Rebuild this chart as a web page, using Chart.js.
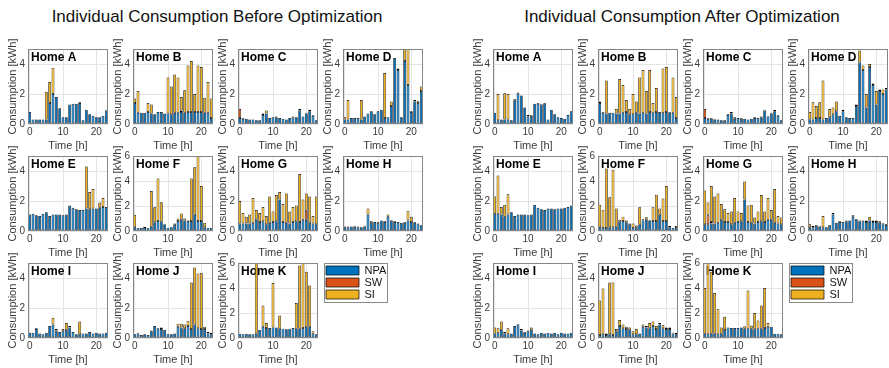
<!DOCTYPE html>
<html>
<head>
<meta charset="utf-8">
<script src="https://cdn.jsdelivr.net/npm/chart.js@4"></script>
<style>
  html, body { margin: 0; padding: 0; background: #fff; overflow: hidden; }
  #fig { position: relative; width: 889px; height: 368px; overflow: hidden; background: #fff;
         font-family: "Liberation Sans", Arial, sans-serif; }
  .ttl { position: absolute; width: 600px; text-align: center; font-size: 17px; line-height: 20px;
         color: #111; white-space: nowrap; top: 7px; }
  canvas.cell { position: absolute; }
  .leg { position: absolute; box-sizing: border-box; border: 1px solid #8a8a8a; background: #fff; overflow: visible; }
  .leg canvas { position: absolute; left: 0; top: 0; }
</style>
</head>
<body>
<div id="fig">
  <div class="ttl" style="left:-83px">Individual Consumption Before Optimization</div>
  <div class="ttl" style="left:382px">Individual Consumption After Optimization</div>
</div>
<script>
// ---- hourly axis and per-home axis limits ----
const hours = [0,1,2,3,4,5,6,7,8,9,10,11,12,13,14,15,16,17,18,19,20,21,22,23];
const homes = ['A','B','C','D','E','F','G','H','I','J','K'];
const yLimits = [5,5,5,5,5,6,5,5,5,5,6];
const seriesNames = ['NPA','SW','SI'];
const seriesColors = ['#0072BD','#D95319','#EDB120'];

// ---- consumption before optimization [kWh] ----
const beforeNPA_A = [0.8,0.3,0.3,0.3,0.3,0.3,1.4,2.0,1.8,1.05,0.45,0.45,1.3,1.35,1.35,1.4,0.25,0.95,0.65,0.55,0.45,0.45,0.55,0.9];
const beforeSW_A  = [0,0,0,0,0,0,0,0,0,0,0,0,0,0,0,0,0,0,0,0,0,0,0,0];
const beforeSI_A  = [0,0,0,0,0,1.85,1.4,1.75,0,0,0,0,0,0,0,0.05,0,0,0,0,0,0,0,0.05];

const beforeNPA_B = [1.4,0.75,0.75,0.75,0.8,0.7,0.65,0.8,0.8,0.7,0.7,0.65,0.75,0.75,0.8,0.75,0.8,0.8,0.8,0.8,0.8,0.75,0.75,0.4];
const beforeSW_B  = [0,0,0,0,0,0,0,0,0,0,0,0,0,0,0.1,0,0,0,0,0,0,0,0,0];
const beforeSI_B  = [0.3,1.45,0,0,0.6,0.6,0,0,0,0,2.4,1.85,2.55,2.35,0.9,1.5,3.1,3.4,1.2,3.1,3.0,1.0,2.05,1.3];

const beforeNPA_C = [0.4,0.35,0.35,0.3,0.3,0.25,0.25,0.6,0.7,0.4,0.45,0.45,0.4,0.35,0.3,0.4,0.45,0.45,0.9,0.5,0.7,0.85,0.55,0.25];
const beforeSW_C  = [0.6,0,0,0,0,0,0,0,0,0,0,0,0,0,0,0,0,0,0,0,0,0,0,0];
const beforeSI_C  = [0,0.05,0,0,0,0,0,0.1,0.2,0,0,0.05,0,0,0,0,0.05,0,0.1,0,0.05,0.1,0.05,0];

const beforeNPA_D = [0.3,0.3,0.4,0.4,0.4,0.3,0.5,0.7,0.85,0.65,0.85,0.95,0.4,0.45,1.2,4.4,3.6,0.45,4.2,2.6,0.8,1.5,1.4,2.2];
const beforeSW_D  = [0,0,0,0,0,0,0,0,0,0,0,0,0,0,0,0,0,0,0,0,0,0,0,0];
const beforeSI_D  = [0.15,1.3,0,0,0,1.3,0,0,0,0,0,0,3.0,0,0.3,0,0.1,0,0.9,2.4,0.05,0.1,0.15,0.3];

const beforeNPA_E = [1.1,1.15,1.05,1.0,1.15,1.25,1.0,1.1,1.1,1.1,1.05,1.1,1.7,1.55,1.45,1.4,1.4,1.5,1.45,1.5,1.5,1.55,1.6,1.6];
const beforeSW_E  = [0,0,0,0,0,0,0,0,0,0,0,0,0,0,0,0,0,0,0,0,0,0,0,0];
const beforeSI_E  = [0,0,0,0,0,0,0,0,0,0,0,0,0,0,0,0,0,2.8,1.15,1.3,0,0.35,0.6,0];

const beforeNPA_F = [0.3,0.25,0.25,0.25,0.25,0.35,0.7,0.8,0.75,0.55,0.25,0.3,0.5,0.8,0.9,0.85,0.8,0.8,1.3,0.8,0.8,0.3,0.25,0.25];
const beforeSW_F  = [0,0,0,0,0,0,0,0,0,0,0,0,0,0,0,0,0,0,0,0,0,0,0,0];
const beforeSI_F  = [1.0,0,0,0.1,0,2.85,1.2,3.4,1.55,0,0,0,0.1,0.2,0.5,0.15,0.05,3.4,3.8,5.2,2.8,0.35,0,0];

const beforeNPA_G = [0.5,0.5,0.5,0.5,0.55,0.75,0.6,0.65,0.45,0.55,0.6,0.65,2.1,0.6,0.55,0.5,0.6,0.65,0.6,0.75,0.75,0.55,0.5,0.45];
const beforeSW_G  = [0,0,0,0,0,0,0,0,0,0,0,0,0,0,0,0,0,0,0,0,0.6,0,0,0];
const beforeSI_G  = [1.5,0.7,0.45,0.6,1.65,0.65,0.6,0.95,0.55,1.75,0.7,1.75,0.5,1.2,1.95,0.8,1.0,1.05,3.2,1.35,1.15,1.75,0.5,1.85];

const beforeNPA_H = [0.25,0.25,0.3,0.3,0.25,0.25,0.3,1.1,0.55,0.6,0.55,0.7,0.6,0.95,0.7,0.6,0.6,0.55,0.55,0.7,0.6,0.55,0.5,0.35];
const beforeSW_H  = [0,0,0,0,0,0,0,0,0,0,0,0,0,0,0,0,0,0,0,0,0,0,0,0];
const beforeSI_H  = [0.05,0.05,0,0.05,0.05,0,0.05,0.4,0.1,0,0.05,0,0.05,0.15,0.05,0.05,0,0,0.05,0.65,0.35,0.05,0,0.05];

const beforeNPA_I = [0.35,0.35,0.6,0.3,0.25,0.35,0.8,0.9,0.5,0.4,0.45,0.55,0.7,0.4,0.25,0.25,0.3,0.3,0.4,0.3,0.35,0.3,0.3,0.35];
const beforeSW_I  = [0,0,0,0,0,0,0,0,0,0,0,0,0,0,0,0,0,0,0,0,0,0,0,0];
const beforeSI_I  = [0,0,0.05,0,0,0,0,0.45,0.1,0,0.15,0.45,0.1,0,0,0.85,0,0,0,0,0,0,0,0];

const beforeNPA_J = [0.25,0.3,0.2,0.25,0.2,0.45,0.8,0.65,0.6,0.55,0.25,0.25,0.3,0.75,0.7,0.65,0.8,0.6,0.9,0.65,0.6,0.6,0.3,0.25];
const beforeSW_J  = [0,0,0,0,0,0,0,0,0,0,0,0,0,0,0,0,0,0,0,0,0,0,0,0];
const beforeSI_J  = [0,0.05,0,0,0,0.05,0,0,0.1,0,0,0,0,0.2,0.25,0.25,0.35,3.1,3.8,3.65,3.75,0.15,0.1,0.1];

const beforeNPA_K = [0.35,0.3,0.35,0.3,0.3,0.35,0.65,0.9,0.8,0.8,0.85,0.85,0.75,0.75,0.7,0.75,0.8,0.75,0.75,0.8,0.9,0.9,0.35,0.3];
const beforeSW_K  = [0,0,0,0,0,0,0,0,0,0,0,0,0,0,0,0,0,0,0,0,0,0,0,0];
const beforeSI_K  = [0,0,0,0,0,5.9,0,1.7,0.4,0,3.55,0,1.05,0,0,0,0,2.05,5.05,5.5,4.4,3.3,0.2,0];

// ---- consumption after optimization [kWh] ----
const afterNPA_A = [0.75,0.25,0.3,0.3,0.3,0.25,1.55,2.05,1.9,1.1,0.5,0.55,1.35,1.35,1.3,1.35,0.3,0.95,0.65,0.45,0.4,0.35,0.6,0.85];
const afterSW_A  = [0,0,0,0,0,0,0,0,0,0,0,0,0,0,0,0,0,0,0,0,0,0,0,0];
const afterSI_A  = [0,1.75,0,1.75,1.7,0,0.1,0.05,0,0,0.1,0.05,0,0.05,0.05,0.05,0,0,0,0,0,0,0,0];

const afterNPA_B = [1.4,0.75,0.7,0.75,0.75,0.7,0.7,0.75,0.8,0.65,0.65,0.75,0.7,0.75,0.7,0.8,0.75,0.8,0.8,0.75,0.8,0.75,0.75,0.4];
const afterSW_B  = [0.1,0,0,0,0,0,0,0,0,0,0,0,0,0,0,0,0,0,0,0,0,0,0,0];
const afterSI_B  = [0,0.05,2.2,0,0,0.3,2.3,1.85,0.8,0.35,1.35,0.75,2.4,2.85,1.5,2.8,0.65,1.6,0,2.95,3.0,0.05,2.35,1.4];

const afterNPA_C = [0.4,0.35,0.35,0.3,0.3,0.25,0.25,0.6,0.7,0.35,0.4,0.35,0.35,0.3,0.35,0.4,0.4,0.45,0.9,0.5,0.7,0.85,0.55,0.25];
const afterSW_C  = [0.6,0,0,0,0,0,0,0,0,0,0,0,0,0,0,0,0,0,0,0,0,0,0,0];
const afterSI_C  = [0,0.05,0.05,0.05,0,0,0,0.05,0.1,0.1,0,0.05,0,0,0,0.05,0,0.05,0.05,0.05,0.05,0.1,0.05,0];

const afterNPA_D = [0.3,0.3,0.4,0.4,0.3,0.4,0.45,0.65,0.85,0.55,0.85,0.45,0.4,0.4,1.2,4.1,3.6,1.1,3.8,2.6,1.3,2.2,2.0,2.3];
const afterSW_D  = [0,0,0,0,0,0,0,0,0,0,0,0,0,0,0,0,0,0,0,0,0,0,0,0];
const afterSI_D  = [0.5,1.15,0.8,1.05,2.6,0,0.55,0.45,0.65,0,0.1,0,0,0,0.1,0.8,0.3,0.9,0.2,0.1,0.9,0.1,0.3,0.1];

const afterNPA_E = [1.15,1.15,1.1,0.95,1.1,1.25,1.0,1.1,1.1,1.1,1.05,1.1,1.75,1.55,1.45,1.4,1.5,1.5,1.45,1.5,1.5,1.55,1.6,1.7];
const afterSW_E  = [0,0,0,0,0,0,0,0,0,0,0,0,0,0,0,0,0,0,0,0,0,0,0,0];
const afterSI_E  = [1.15,2.55,0.5,0.8,1.35,0,0,0,0,0,0,0,0,0,0,0,0,0,0,0,0,0,0,0];

const afterNPA_F = [0.3,0.25,0.25,0.3,0.3,0.35,0.75,0.8,0.7,0.5,0.25,0.3,0.5,0.85,0.9,0.85,0.8,0.8,1.3,0.8,0.8,0.3,0.25,0.25];
const afterSW_F  = [0,0,0,0,0,0,0,0,0,0,0,0,0,0,0,0,0,0,0,0,0,0,0,0];
const afterSI_F  = [1.8,1.45,4.75,2.4,4.6,1.45,0.15,0.35,0.15,0.1,0.35,0.15,1.4,0.1,0.2,0.05,1.1,2.1,0.5,1.8,2.8,0.1,0,0.15];

const afterNPA_G = [0.45,0.45,0.5,0.5,0.55,0.75,0.6,0.6,0.45,0.55,0.6,0.65,2.1,0.6,0.55,0.5,0.6,0.65,0.6,0.75,0.75,0.55,0.5,0.45];
const afterSW_G  = [0,0.6,0.1,0,0,0,0,0,0,0,0,0,0,0,0,0,0,0,0,0,0,0,0,0];
const afterSI_G  = [2.25,0.85,2.4,1.8,1.95,1.05,0.85,0.6,0.85,1.65,0.7,0.55,1.2,1.1,1.2,0.4,0.7,1.75,0.7,1.45,0.65,2.25,0.5,0.45];

const afterNPA_H = [0.25,0.25,0.35,0.3,0.25,0.25,0.35,1.1,0.55,0.6,0.6,0.65,0.7,0.95,0.75,0.65,0.65,0.6,0.7,0.6,0.6,0.55,0.5,0.4];
const afterSW_H  = [0,0,0,0,0,0,0,0,0,0,0,0,0,0,0,0,0,0,0,0,0,0,0,0];
const afterSI_H  = [0.2,0.1,0.05,0.05,0.75,0,0.05,0.1,0,0.05,0,0.05,0,0.1,0.05,0.05,0.05,0.1,0.25,0.1,0.1,0.1,0.05,0.05];

const afterNPA_I = [0.3,0.35,0.55,0.3,0.25,0.3,0.8,0.9,0.5,0.35,0.45,0.55,0.3,0.25,0.35,0.3,0.35,0.3,0.35,0.25,0.35,0.3,0.3,0.35];
const afterSW_I  = [0,0,0,0,0,0,0,0,0,0,0,0,0,0,0,0,0,0,0,0,0,0,0,0];
const afterSI_I  = [0.4,0.3,0.55,0.1,0.4,0,0,0.05,0.1,0.05,0.05,0.15,0,0,0,0,0,0,0,0,0,0,0,0];

const afterNPA_J = [0.2,0.25,0.2,0.25,0.2,0.45,0.8,0.65,0.6,0.55,0.25,0.25,0.3,0.75,0.7,0.65,0.8,0.6,0.9,0.65,0.6,0.6,0.3,0.25];
const afterSW_J  = [0,0,0,0,0,0,0,0,0,0,0,0,0,0,0,0,0,0,0,0,0,0,0,0];
const afterSI_J  = [2.3,3.05,0.1,3.45,3.5,0.15,0.4,0.25,0.15,0.15,0.2,0.35,0,0.15,0.1,0.35,0.3,0.2,0.1,0.2,0.1,0.1,0.05,0.1];

const afterNPA_K = [0.35,0.3,0.35,0.35,0.3,0.35,0.65,0.85,0.8,0.8,0.8,0.85,0.75,0.75,0.75,0.7,0.75,0.75,0.8,0.9,0.9,0.35,0.35,0.3];
const afterSW_K  = [0,0,0,0,0,0,0,0,0,0,0,0,0,0,0,0,0,0,0,0,0,0,0,0];
const afterSI_K  = [3.65,5.8,4.95,3.25,2.0,0.5,1.05,0,0,0,0,0,0.2,3.05,0.25,1.3,0.65,1.85,3.2,0.3,0,0,0,0];

// stacked series per home: [NPA, SW, SI]
const beforeSeries = [
  [beforeNPA_A, beforeSW_A, beforeSI_A], [beforeNPA_B, beforeSW_B, beforeSI_B],
  [beforeNPA_C, beforeSW_C, beforeSI_C], [beforeNPA_D, beforeSW_D, beforeSI_D],
  [beforeNPA_E, beforeSW_E, beforeSI_E], [beforeNPA_F, beforeSW_F, beforeSI_F],
  [beforeNPA_G, beforeSW_G, beforeSI_G], [beforeNPA_H, beforeSW_H, beforeSI_H],
  [beforeNPA_I, beforeSW_I, beforeSI_I], [beforeNPA_J, beforeSW_J, beforeSI_J],
  [beforeNPA_K, beforeSW_K, beforeSI_K]
];
const afterSeries = [
  [afterNPA_A, afterSW_A, afterSI_A], [afterNPA_B, afterSW_B, afterSI_B],
  [afterNPA_C, afterSW_C, afterSI_C], [afterNPA_D, afterSW_D, afterSI_D],
  [afterNPA_E, afterSW_E, afterSI_E], [afterNPA_F, afterSW_F, afterSI_F],
  [afterNPA_G, afterSW_G, afterSI_G], [afterNPA_H, afterSW_H, afterSI_H],
  [afterNPA_I, afterSW_I, afterSI_I], [afterNPA_J, afterSW_J, afterSI_J],
  [afterNPA_K, afterSW_K, afterSI_K]
];

// ---- layout of the two panel groups ----
Chart.defaults.font.family = '"Liberation Sans", Arial, sans-serif';
Chart.defaults.color = '#3a3a3a';
const GROUP_X = [0, 465];
const BOX_W = 80, BOX_H = 75;
const PAD_L = 30, PAD_T = 20, PAD_R = 6, PAD_B = 32;
const fig = document.getElementById('fig');

// frame around the plot area
const framePlugin = {
  id: 'frame',
  afterDraw(chart) {
    const a = chart.chartArea, c = chart.ctx;
    c.save();
    c.strokeStyle = '#858585';
    c.lineWidth = 1;
    c.strokeRect(Math.round(a.left) + 0.5, Math.round(a.top) + 0.5,
                 Math.round(a.right - a.left) - 1, Math.round(a.bottom - a.top) - 1);
    c.restore();
  }
};
// home name in the upper-left corner (bars are drawn on top of it)
const homeLabelPlugin = {
  id: 'homeLabel',
  beforeDatasetsDraw(chart, args, opts) {
    const a = chart.chartArea, c = chart.ctx;
    c.save();
    c.font = 'bold 12px "Liberation Sans", Arial, sans-serif';
    c.fillStyle = '#000';
    c.textBaseline = 'middle';
    c.textAlign = 'left';
    c.fillText(opts.text, a.left + 3, a.top + 8.5);
    c.restore();
  }
};

function addPanel(group, idx, series) {
  const col = idx % 4, row = Math.floor(idx / 4);
  const boxL = GROUP_X[group] + 28 + 105 * col;
  const boxT = 49 + 107 * row;
  const cv = document.createElement('canvas');
  cv.className = 'cell';
  cv.width = PAD_L + BOX_W + PAD_R;
  cv.height = PAD_T + BOX_H + PAD_B;
  cv.style.left = (boxL - PAD_L) + 'px';
  cv.style.top = (boxT - PAD_T) + 'px';
  fig.appendChild(cv);

  const datasets = seriesNames.map((name, k) => ({
    label: name,
    data: series[k],
    backgroundColor: seriesColors[k],
    borderColor: '#000',
    borderWidth: 0.7,
    borderSkipped: false,
    barPercentage: 0.86,
    categoryPercentage: 1.0
  }));

  new Chart(cv, {
    type: 'bar',
    data: { labels: hours, datasets },
    plugins: [framePlugin, homeLabelPlugin],
    options: {
      responsive: false,
      animation: false,
      devicePixelRatio: 1,
      layout: { padding: { left: 0, top: PAD_T, right: PAD_R, bottom: 0 } },
      plugins: {
        legend: { display: false },
        tooltip: { enabled: false },
        homeLabel: { text: 'Home ' + homes[idx] }
      },
      scales: {
        x: {
          stacked: true,
          offset: true,
          border: { display: false },
          grid: { offset: false, color: '#e4e4e4', drawTicks: false },
          ticks: {
            autoSkip: false, maxRotation: 0, padding: 2,
            font: { size: 10 },
            callback: (v, i) => (hours[i] % 10 === 0 ? String(hours[i]) : null)
          },
          title: { display: true, text: 'Time [h]', font: { size: 11 }, padding: { top: 0, bottom: 3 } },
          afterFit: s => { s.height = PAD_B; }
        },
        y: {
          stacked: true,
          min: 0,
          max: yLimits[idx],
          border: { display: false },
          grid: { color: '#e4e4e4', drawTicks: false },
          ticks: { stepSize: 2, padding: 3, font: { size: 10 } },
          afterBuildTicks: s => { s.ticks = s.ticks.filter(t => t.value % 2 === 0); },
          title: { display: true, text: 'Consumption [kWh]', font: { size: 11 }, padding: { top: 8, bottom: 0 } },
          afterFit: s => { s.width = PAD_L; }
        }
      }
    }
  });
}

// legend box; the canvas is taller than the frame so the legend can use its full height
function addLegend(group) {
  const box = document.createElement('div');
  box.className = 'leg';
  box.style.left = (GROUP_X[group] + 324) + 'px';
  box.style.top = '263px';
  box.style.width = '64px';
  box.style.height = '40px';
  fig.appendChild(box);
  const cv = document.createElement('canvas');
  cv.width = 62; cv.height = 90;
  box.appendChild(cv);
  new Chart(cv, {
    type: 'bar',
    data: {
      labels: [],
      datasets: seriesNames.map((name, k) => ({
        label: name, data: [], backgroundColor: seriesColors[k], borderColor: '#000', borderWidth: 0.7
      }))
    },
    options: {
      responsive: false, animation: false, devicePixelRatio: 1,
      layout: { padding: 0 },
      scales: { x: { display: false }, y: { display: false } },
      plugins: {
        tooltip: { enabled: false },
        legend: {
          position: 'top', align: 'start',
          onClick: null,
          labels: { boxWidth: 33, boxHeight: 9, padding: 1, color: '#111', font: { size: 11 } }
        }
      }
    }
  });
}

beforeSeries.forEach((s, i) => addPanel(0, i, s));
afterSeries.forEach((s, i) => addPanel(1, i, s));
addLegend(0);
addLegend(1);
</script>
</body>
</html>
